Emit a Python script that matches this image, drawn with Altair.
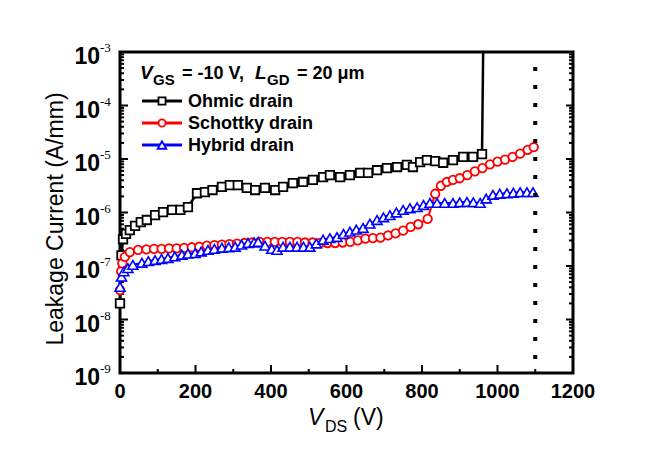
import altair as alt
import pandas as pd

# ---------------- data ----------------
ohmic_v = [0, 4, 8, 16, 26, 40, 55, 71, 93, 114, 138, 160, 180, 204, 225, 245,
           270, 291, 312, 336, 358, 384, 411, 432, 458, 485, 511, 538, 556, 583,
           609, 636, 657, 681, 707, 734, 760, 776, 795, 813, 835, 856, 882, 909,
           935, 959]
ohmic_i = [2.0e-8, 1.58e-7, 3.16e-7, 3.98e-7, 4.68e-7, 5.62e-7, 6.61e-7, 7.24e-7,
           8.91e-7, 1.02e-6, 1.12e-6, 1.12e-6, 1.26e-6, 2.29e-6, 2.40e-6, 2.63e-6,
           3.02e-6, 3.24e-6, 3.24e-6, 2.88e-6, 2.63e-6, 2.88e-6, 2.63e-6, 3.02e-6,
           3.55e-6, 3.72e-6, 4.07e-6, 4.57e-6, 5.01e-6, 4.57e-6, 5.01e-6, 5.50e-6,
           5.50e-6, 6.17e-6, 6.76e-6, 7.08e-6, 7.76e-6, 7.08e-6, 8.71e-6, 9.55e-6,
           9.12e-6, 8.51e-6, 9.55e-6, 1.10e-5, 1.10e-5, 1.23e-5]
# breakdown of the ohmic device (line only, no marker)
ohmic_break_v = [962]
ohmic_break_i = [1.0e-3]

schottky_v = [0, 3, 6, 13, 26, 48, 70, 90, 110, 130, 150, 170, 190, 210, 230, 250,
              270, 290, 310, 330, 350, 370, 390, 410, 430, 450, 470, 490, 510, 530,
              550, 570, 590, 610, 630, 650, 670, 690, 710, 730, 750, 770, 790, 815,
              835, 850, 866, 882, 900, 920, 940, 960, 980, 1000, 1020, 1040, 1060,
              1080, 1096]
schottky_i = [3.55e-8, 7.94e-8, 1.12e-7, 1.48e-7, 1.82e-7, 2.00e-7, 2.04e-7, 2.09e-7,
              2.09e-7, 2.14e-7, 2.14e-7, 2.19e-7, 2.24e-7, 2.29e-7, 2.40e-7, 2.45e-7,
              2.51e-7, 2.57e-7, 2.63e-7, 2.69e-7, 2.75e-7, 2.82e-7, 2.82e-7, 2.82e-7,
              2.82e-7, 2.82e-7, 2.82e-7, 2.75e-7, 2.75e-7, 2.69e-7, 2.69e-7, 2.69e-7,
              2.75e-7, 2.82e-7, 3.02e-7, 3.24e-7, 3.31e-7, 3.39e-7, 3.72e-7, 4.07e-7,
              4.57e-7, 5.37e-7, 6.03e-7, 7.59e-7, 2.24e-6, 3.16e-6, 3.72e-6, 4.07e-6,
              4.37e-6, 5.01e-6, 5.89e-6, 6.76e-6, 7.94e-6, 8.91e-6, 9.77e-6, 1.10e-5,
              1.26e-5, 1.48e-5, 1.66e-5]

hybrid_v = [0, 4, 10, 21, 34, 58, 75, 93, 110, 127, 145, 164, 180, 199, 215, 233,
            250, 270, 288, 305, 322, 339, 355, 366, 384, 402, 416, 432, 450, 469,
            486, 503, 520, 538, 556, 575, 592, 609, 626, 644, 662, 681, 698, 715,
            732, 750, 768, 787, 804, 821, 840, 860, 882, 900, 919, 936, 954, 970,
            988, 1006, 1025, 1042, 1060, 1078, 1094]
hybrid_i = [4.07e-8, 6.31e-8, 7.94e-8, 9.12e-8, 1.05e-7, 1.15e-7, 1.23e-7, 1.29e-7,
            1.35e-7, 1.41e-7, 1.51e-7, 1.62e-7, 1.70e-7, 1.74e-7, 1.86e-7, 2.00e-7,
            2.09e-7, 2.19e-7, 2.24e-7, 2.29e-7, 2.51e-7, 2.69e-7, 2.75e-7, 2.82e-7,
            2.40e-7, 2.09e-7, 2.00e-7, 2.29e-7, 2.29e-7, 2.29e-7, 2.29e-7, 2.29e-7,
            2.63e-7, 3.09e-7, 3.31e-7, 3.47e-7, 3.98e-7, 4.37e-7, 4.79e-7, 5.13e-7,
            6.17e-7, 7.24e-7, 8.13e-7, 8.91e-7, 1.00e-6, 1.12e-6, 1.20e-6, 1.26e-6,
            1.38e-6, 1.51e-6, 1.51e-6, 1.51e-6, 1.51e-6, 1.55e-6, 1.58e-6, 1.55e-6,
            1.51e-6, 1.82e-6, 2.14e-6, 2.24e-6, 2.29e-6, 2.34e-6, 2.40e-6, 2.40e-6,
            2.40e-6]

limit_v = [1100]

x_major = [0, 200, 400, 600, 800, 1000, 1200]
x_tick_labels = ["0", "200", "400", "600", "800", "1000", "1200"]
x_minor = [100, 300, 500, 700, 900, 1100]
y_major = [1e-9, 1e-8, 1e-7, 1e-6, 1e-5, 1e-4, 1e-3]
y_base_labels = ["10", "10", "10", "10", "10", "10", "10"]
y_exp_labels = ["-9", "-8", "-7", "-6", "-5", "-4", "-3"]
y_minor = [m * d for d in y_major[:-1] for m in range(2, 10)]

series_names = ["Ohmic drain", "Schottky drain", "Hybrid drain"]
series_colors = ["#000000", "#ff0000", "#0000ff"]
series_shapes = ["square", "circle", "triangle-up"]

W, H = 453, 321
SANS = "Liberation Sans"
SERIF = "Liberation Serif"

xs = alt.Scale(domain=[0, 1200], nice=False, zero=False)
ys = alt.Scale(type="log", domain=[1e-9, 1e-3], nice=False)


def df(v, i):
    return pd.DataFrame({"v": v, "i": i})


# the frame, ticks and tick labels are drawn as marks on the shared scales
def X():
    return alt.X("v:Q", scale=xs, axis=None)


def Y():
    return alt.Y("i:Q", scale=ys, axis=None)


layers = []


# ---------------- inward tick marks ----------------
def xticks(values, length):
    return (alt.Chart(pd.DataFrame({"v": values}))
            .mark_tick(color="black", thickness=2, size=length, orient="vertical",
                       yOffset=-length / 2, opacity=1)
            .encode(x=X(), y=alt.value(H)))


def yticks(values, length, right=False):
    return (alt.Chart(pd.DataFrame({"i": values}))
            .mark_tick(color="black", thickness=2, size=length, orient="horizontal",
                       xOffset=(-length / 2 if right else length / 2), opacity=1)
            .encode(y=Y(), x=alt.value(W if right else 0)))


layers += [xticks(x_major, 8), xticks(x_minor, 4),
           yticks(y_major, 8), yticks(y_minor, 4),
           yticks(y_major, 7, right=True), yticks(y_minor, 4, right=True)]

# ---------------- tick labels ----------------
layers.append(alt.Chart(pd.DataFrame({"v": x_major, "t": x_tick_labels}))
              .mark_text(font=SANS, fontWeight="bold", fontSize=20, align="center",
                         baseline="top", color="black")
              .encode(x=X(), y=alt.value(H + 9), text="t:N"))
layers.append(alt.Chart(pd.DataFrame({"i": y_major, "t": y_base_labels}))
              .mark_text(font=SANS, fontWeight="bold", fontSize=23, align="right",
                         baseline="middle", color="black", dy=5)
              .encode(y=Y(), x=alt.value(-20), text="t:N"))
layers.append(alt.Chart(pd.DataFrame({"i": y_major, "e": y_exp_labels}))
              .mark_text(font=SERIF, fontSize=13, align="left", baseline="middle",
                         color="black", dy=-4)
              .encode(y=Y(), x=alt.value(-20), text="e:N"))

# ---------------- series ----------------
layers.append(alt.Chart(df(ohmic_v + ohmic_break_v, ohmic_i + ohmic_break_i))
              .mark_line(color=series_colors[0], strokeWidth=2.5, clip=True)
              .encode(x=X(), y=Y()))
layers.append(alt.Chart(df(ohmic_v, ohmic_i))
              .mark_point(shape=series_shapes[0], filled=True, fill="white",
                          stroke=series_colors[0], strokeWidth=1.8, size=72, opacity=1)
              .encode(x=X(), y=Y()))
layers.append(alt.Chart(df(schottky_v, schottky_i))
              .mark_line(color=series_colors[1], strokeWidth=2, clip=True)
              .encode(x=X(), y=Y()))
layers.append(alt.Chart(df(schottky_v, schottky_i))
              .mark_point(shape=series_shapes[1], filled=True, fill="white",
                          stroke=series_colors[1], strokeWidth=1.8, size=72, opacity=1)
              .encode(x=X(), y=Y()))
layers.append(alt.Chart(df(hybrid_v, hybrid_i))
              .mark_line(color=series_colors[2], strokeWidth=2, clip=True)
              .encode(x=X(), y=Y()))
layers.append(alt.Chart(df(hybrid_v, hybrid_i))
              .mark_point(shape=series_shapes[2], filled=True, fill="white",
                          stroke=series_colors[2], strokeWidth=1.6, size=100, opacity=1)
              .encode(x=X(), y=Y()))
# dotted limit line at 1100 V
layers.append(alt.Chart(pd.DataFrame({"v": limit_v}))
              .mark_rule(color="black", strokeWidth=4, strokeDash=[4, 14],
                         strokeDashOffset=3)
              .encode(x=X()))

# ---------------- legend ----------------
row_y = [49, 71, 93]
for name, col, shp, ry in zip(series_names, series_colors, series_shapes, row_y):
    layers.append(alt.Chart(pd.DataFrame({"a": [0]})).mark_rule(color=col, strokeWidth=3)
                  .encode(x=alt.value(22), x2=alt.value(62), y=alt.value(ry)))
    layers.append(alt.Chart(pd.DataFrame({"a": [0]}))
                  .mark_point(shape=shp, filled=True, fill="white", stroke=col,
                              strokeWidth=1.8, size=50 if shp != "triangle-up" else 75,
                              opacity=1)
                  .encode(x=alt.value(42), y=alt.value(ry)))
    layers.append(alt.Chart(pd.DataFrame({"a": [0]}))
                  .mark_text(text=name, font=SANS, fontWeight="bold", fontSize=18,
                             align="left", baseline="middle", color="black")
                  .encode(x=alt.value(68), y=alt.value(ry + 1)))


def txt(s, x, y, size, weight="bold", style="normal", baseline="alphabetic",
        align="left", angle=0, font=SANS):
    return (alt.Chart(pd.DataFrame({"a": [0]}))
            .mark_text(text=s, font=font, fontSize=size, fontWeight=weight,
                       fontStyle=style, align=align, baseline=baseline,
                       angle=angle, color="black")
            .encode(x=alt.value(x), y=alt.value(y)))


# legend title: V_GS = -10 V, L_GD = 20 μm
layers.append(txt("V", 20, 27, 19, style="italic"))
layers.append(txt("GS", 33, 33, 15))
layers.append(txt("= -10 V,", 62, 27, 18))
layers.append(txt("L", 135, 27, 19, style="italic"))
layers.append(txt("GD", 147, 33, 15))
layers.append(txt("= 20 μm", 177, 27, 18))

# axis titles
layers.append(txt("Leakage Current (A/mm)", -64, 167, 23, weight="normal",
                  baseline="middle", align="center", angle=270))
layers.append(txt("V", 188, 373, 23, weight="normal", style="italic"))
layers.append(txt("DS", 205, 380, 16, weight="normal"))
layers.append(txt("(V)", 233, 373, 23, weight="normal"))

chart = (alt.layer(*layers)
         .properties(width=W, height=H,
                     autosize=alt.AutoSizeParams(type="none"),
                     padding={"left": 112, "top": 44, "right": 83, "bottom": 76},
                     background="white")
         .configure_view(stroke="black", strokeWidth=3))

chart.save("out.html", embed_options={"renderer": "svg", "actions": False})
